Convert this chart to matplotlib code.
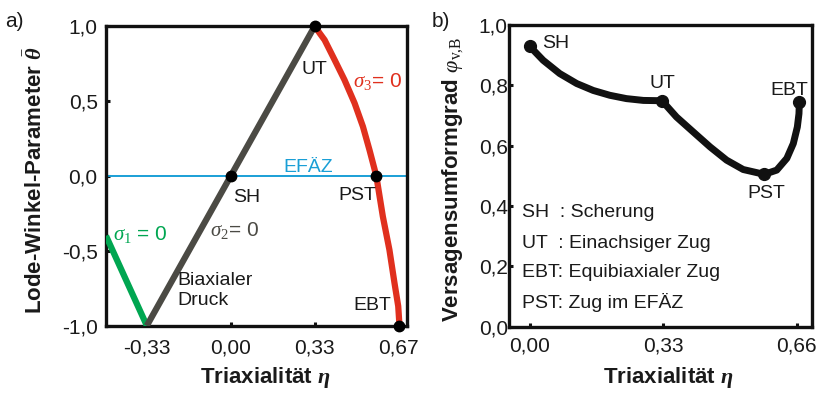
import matplotlib.pyplot as plt

# fonts: Arial-like sans for text, serif italic for the formula symbols
plt.rcParams['font.family'] = 'Liberation Sans'
plt.rcParams['mathtext.fontset'] = 'custom'
plt.rcParams['mathtext.rm'] = 'Liberation Serif'
plt.rcParams['mathtext.it'] = 'Liberation Serif:italic'
plt.rcParams['mathtext.bf'] = 'Liberation Serif:italic:bold'

# ---- data a): Lode-Winkel-Parameter over Triaxialitaet ----
eta_sig1 = [-0.495, -0.333]
theta_sig1 = [-0.40, -1.0]

eta_sig2 = [-0.333, 0.333]
theta_sig2 = [-1.0, 1.0]

eta_sig3 = [0.333, 0.352, 0.372, 0.412, 0.451, 0.491, 0.524, 0.550, 0.577,
            0.603, 0.629, 0.649, 0.664, 0.669]
theta_sig3 = [1.0, 0.953, 0.907, 0.773, 0.640, 0.485, 0.329, 0.173, 0.0,
              -0.271, -0.493, -0.713, -0.870, -1.0]

state_eta = [0.333, 0.0, 0.577, 0.667]
state_theta = [1.0, 0.0, 0.0, -1.0]

# ---- data b): Versagensumformgrad over Triaxialitaet ----
eta_b = [0.0, 0.033, 0.074, 0.116, 0.157, 0.198, 0.239, 0.281, 0.327,
         0.363, 0.404, 0.446, 0.487, 0.528, 0.580, 0.611, 0.636, 0.652,
         0.662, 0.666, 0.667]
phi_b = [0.929, 0.883, 0.839, 0.806, 0.783, 0.767, 0.756, 0.750, 0.749,
         0.695, 0.646, 0.596, 0.552, 0.521, 0.505, 0.519, 0.558, 0.607,
         0.662, 0.706, 0.744]
point_eta_b = [0.0, 0.327, 0.580, 0.667]
point_phi_b = [0.929, 0.749, 0.505, 0.744]

xt_a = [-1/3, 0, 1/3, 2/3]
xt_a_lab = ['-0,33', '0,00', '0,33', '0,67']
yt_a = [-1.0, -0.5, 0.0, 0.5, 1.0]
yt_a_lab = ['-1,0', '-0,5', '0,0', '0,5', '1,0']
xt_b = [0.0, 0.33, 0.66]
xt_b_lab = ['0,00', '0,33', '0,66']
yt_b = [0.0, 0.2, 0.4, 0.6, 0.8, 1.0]
yt_b_lab = ['0,0', '0,2', '0,4', '0,6', '0,8', '1,0']

red = '#e0301e'
green = '#00a651'
grey = '#4b4a44'
blue = '#1a9fd6'
txt = '#1a1a1a'

fig = plt.figure(figsize=(8.28, 3.93), dpi=100)
ax1 = fig.add_axes([0.128, 0.1712, 0.363, 0.7626])
ax2 = fig.add_axes([0.615, 0.1687, 0.3653, 0.7677])

# ---------- panel a ----------
ax1.axhline(0, color=blue, lw=1.4, zorder=2)
ax1.plot(eta_sig1, theta_sig1, color=green, lw=4.5, solid_capstyle='butt', zorder=3)
ax1.plot(eta_sig2, theta_sig2, color=grey, lw=4.5, solid_capstyle='butt', zorder=3)
ax1.plot(eta_sig3, theta_sig3, color=red, lw=4.5, solid_capstyle='butt',
         solid_joinstyle='round', zorder=3)
ax1.plot(state_eta, state_theta, 'o', color='black', ms=7.5, zorder=5, clip_on=False)

ax1.set_xlim(-0.495, 0.697)
ax1.set_ylim(-1.0, 1.0)
ax1.set_xticks(xt_a)
ax1.set_xticklabels(xt_a_lab)
ax1.set_yticks(yt_a)
ax1.set_yticklabels(yt_a_lab)

fs = 14
ax1.text(0.333, 0.68, 'UT', ha='center', va='baseline', fontsize=fs, color=txt)
ax1.text(0.483, 0.593, r'$\sigma_3$= 0', ha='left', va='baseline', fontsize=fs + 1, color=red)
ax1.text(0.305, 0.029, 'EFÄZ', ha='center', va='baseline', fontsize=fs, color=blue)
ax1.text(0.008, -0.173, 'SH', ha='left', va='baseline', fontsize=fs, color=txt)
ax1.text(0.578, -0.16, 'PST', ha='right', va='baseline', fontsize=fs, color=txt)
ax1.text(-0.467, -0.427, r'$\sigma_1$ = 0', ha='left', va='baseline', fontsize=fs + 1, color=green)
ax1.text(-0.083, -0.404, r'$\sigma_2$= 0', ha='left', va='baseline', fontsize=fs + 1, color=grey)
ax1.text(-0.21, -0.725, 'Biaxialer', ha='left', va='baseline', fontsize=fs, color=txt)
ax1.text(-0.21, -0.865, 'Druck', ha='left', va='baseline', fontsize=fs, color=txt)
ax1.text(0.637, -0.898, 'EBT', ha='right', va='baseline', fontsize=fs, color=txt)

# ---------- panel b ----------
ax2.plot(eta_b, phi_b, color='#111111', lw=5, solid_capstyle='round',
         solid_joinstyle='round', zorder=3)
ax2.plot(point_eta_b, point_phi_b, 'o', color='#111111', ms=8.5, zorder=4)

ax2.set_xlim(-0.051, 0.6975)
ax2.set_ylim(0.0, 1.0)
ax2.set_xticks(xt_b)
ax2.set_xticklabels(xt_b_lab)
ax2.set_yticks(yt_b)
ax2.set_yticklabels(yt_b_lab)

ax2.text(0.030, 0.924, 'SH', ha='left', va='baseline', fontsize=fs, color=txt)
ax2.text(0.327, 0.79, 'UT', ha='center', va='baseline', fontsize=fs, color=txt)
ax2.text(0.688, 0.767, 'EBT', ha='right', va='baseline', fontsize=fs, color=txt)
ax2.text(0.584, 0.427, 'PST', ha='center', va='baseline', fontsize=fs, color=txt)

legend_lines = ['SH  : Scherung', 'UT  : Einachsiger Zug',
                'EBT: Equibiaxialer Zug', 'PST: Zug im EFÄZ']
for line, yy in zip(legend_lines, [0.364, 0.262, 0.165, 0.063]):
    ax2.text(-0.020, yy, line, ha='left', va='baseline', fontsize=fs, color=txt)

for ax in (ax1, ax2):
    for sp in ax.spines.values():
        sp.set_linewidth(2.4)
        sp.set_color('#111111')
    ax.tick_params(direction='in', length=3, width=2.2, labelsize=15,
                   colors='#111111', labelcolor=txt)
ax1.tick_params(axis='x', pad=9)
ax1.tick_params(axis='y', pad=6)
ax2.tick_params(axis='x', pad=7)
ax2.tick_params(axis='y', pad=1)

# axis labels
fig.text(0.321, 1 - 383/393, r'Triaxialität $\mathbf{\eta}$', ha='center', va='baseline',
         fontsize=16, fontweight='bold', color=txt)
fig.text(0.807, 1 - 383/393, r'Triaxialität $\mathbf{\eta}$', ha='center', va='baseline',
         fontsize=16, fontweight='bold', color=txt)
fig.text(0.0435, 0.542, r'Lode-Winkel-Parameter $\bar{\mathbf{\theta}}$', rotation=90,
         ha='center', va='center', fontsize=16, fontweight='bold', color=txt)
fig.text(0.546, 0.5445, r'Versagensumformgrad $\varphi_{\mathrm{v{,}B}}$', rotation=90,
         ha='center', va='center', fontsize=16, fontweight='bold', color=txt)

fig.text(5/828, 1 - 27/393, 'a)', ha='left', va='baseline', fontsize=15, color=txt)
fig.text(432/828, 1 - 27/393, 'b)', ha='left', va='baseline', fontsize=15, color=txt)

fig.savefig('out.png', dpi=100)
